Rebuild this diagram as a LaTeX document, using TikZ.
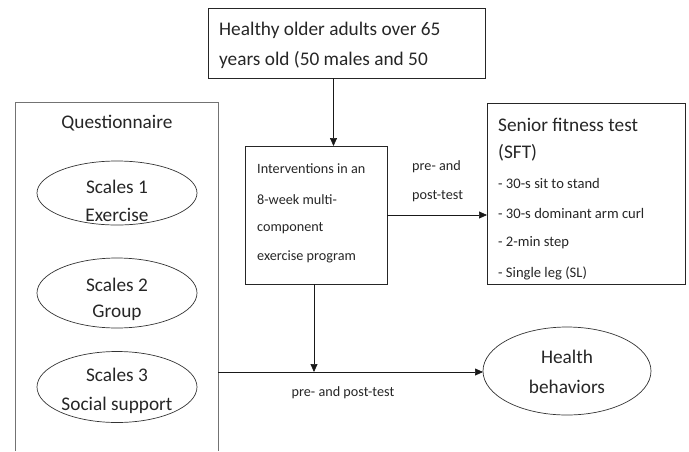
\documentclass[tikz,border=0pt]{standalone}
\usepackage{fontspec}
\setmainfont{Carlito}
\usetikzlibrary{shapes.geometric,arrows.meta}
\begin{document}
\begin{tikzpicture}[x=1pt,y=-1pt,
 box/.style={draw=black!85,line width=0.8pt,inner sep=0,outer sep=0},
 oval/.style={draw=black!80,ellipse,line width=0.7pt,inner sep=0,outer sep=0},
 big/.style={font=\fontsize{19.3}{22}\selectfont,inner sep=0,text=black!85},
 small/.style={font=\fontsize{14.2}{16}\selectfont,inner sep=0,text=black!85},
 mid/.style={font=\fontsize{14.6}{16}\selectfont,inner sep=0,text=black!85},
 conn/.style={line width=0.7pt,draw=black!90,-{Triangle[length=8pt,width=7pt]}}]
\useasboundingbox (0,0) rectangle (689,451);

% top box
\node[box,minimum width=277pt,minimum height=70pt] (top) at (346.5,43) {};
\node[big,anchor=west] (t1) at (219,30) {Healthy older adults over 65};
\node[big,anchor=west] (t2) at (219,60) {years old (50 males and 50};

% questionnaire box (open at the bottom)
\draw[draw=black!55,line width=0.9pt] (15,451) -- (15,102) -- (218,102) -- (218,451);
\coordinate (qr) at (218,372);
\node[big] (qt) at (117,123) {Questionnaire};

\node[oval,minimum width=160pt,minimum height=64pt] (e1) at (117,193) {};
\node[big] (e1a) at (117,187) {Scales 1};
\node[big] (e1b) at (117,215) {Exercise};
\node[oval,minimum width=160pt,minimum height=70pt] (e2) at (117,293) {};
\node[big] (e2a) at (117,285) {Scales 2};
\node[big] (e2b) at (117,313) {Group};
\node[oval,minimum width=160pt,minimum height=71pt] (e3) at (117,387) {};
\node[big] (e3a) at (117,375) {Scales 3};
\node[big] (e3b) at (117,405) {Social support};

% intervention box
\node[box,minimum width=142pt,minimum height=138pt] (iv) at (316,215) {};
\node[small,anchor=west] (i1) at (257,169) {Interventions in an};
\node[small,anchor=west] (i2) at (257,200) {8-week multi-};
\node[small,anchor=west] (i3) at (257,228) {component};
\node[small,anchor=west] (i4) at (257,257) {exercise program};

\node[small,anchor=west] (p1) at (412,167) {pre- and};
\node[small,anchor=west] (p2) at (412,196) {post-test};

% SFT box
\node[box,minimum width=198pt,minimum height=181pt] (sft) at (586,193.5) {};
\node[big,anchor=west] (s1) at (498,125) {Senior fitness test};
\node[big,anchor=west] (s2) at (498,153) {(SFT)};
\node[mid,anchor=west] (s3) at (498,183) {- 30-s sit to stand};
\node[mid,anchor=west] (s4) at (498,213) {- 30-s dominant arm curl};
\node[mid,anchor=west] (s5) at (498,243) {- 2-min step};
\node[mid,anchor=west] (s6) at (498,273) {- Single leg (SL)};

% health behaviors
\node[oval,minimum width=168pt,minimum height=88pt] (hb) at (567,371) {};
\node[big] (h1) at (567,357) {Health};
\node[big] (h2) at (567,387) {behaviors};

\node[small] (pp) at (343,393) {pre- and post-test};

% connectors
\draw[conn] ([xshift=-13pt]top.south) -- ([xshift=-13pt]top.south |- iv.north);
\draw[conn] (iv.east) -- (iv.east -| sft.west);
\draw[conn] ([xshift=-2pt]iv.south) -- ([xshift=-2pt]iv.south |- qr);
\draw[conn] (qr) -- (qr -| hb.west);
\end{tikzpicture}
\end{document}
